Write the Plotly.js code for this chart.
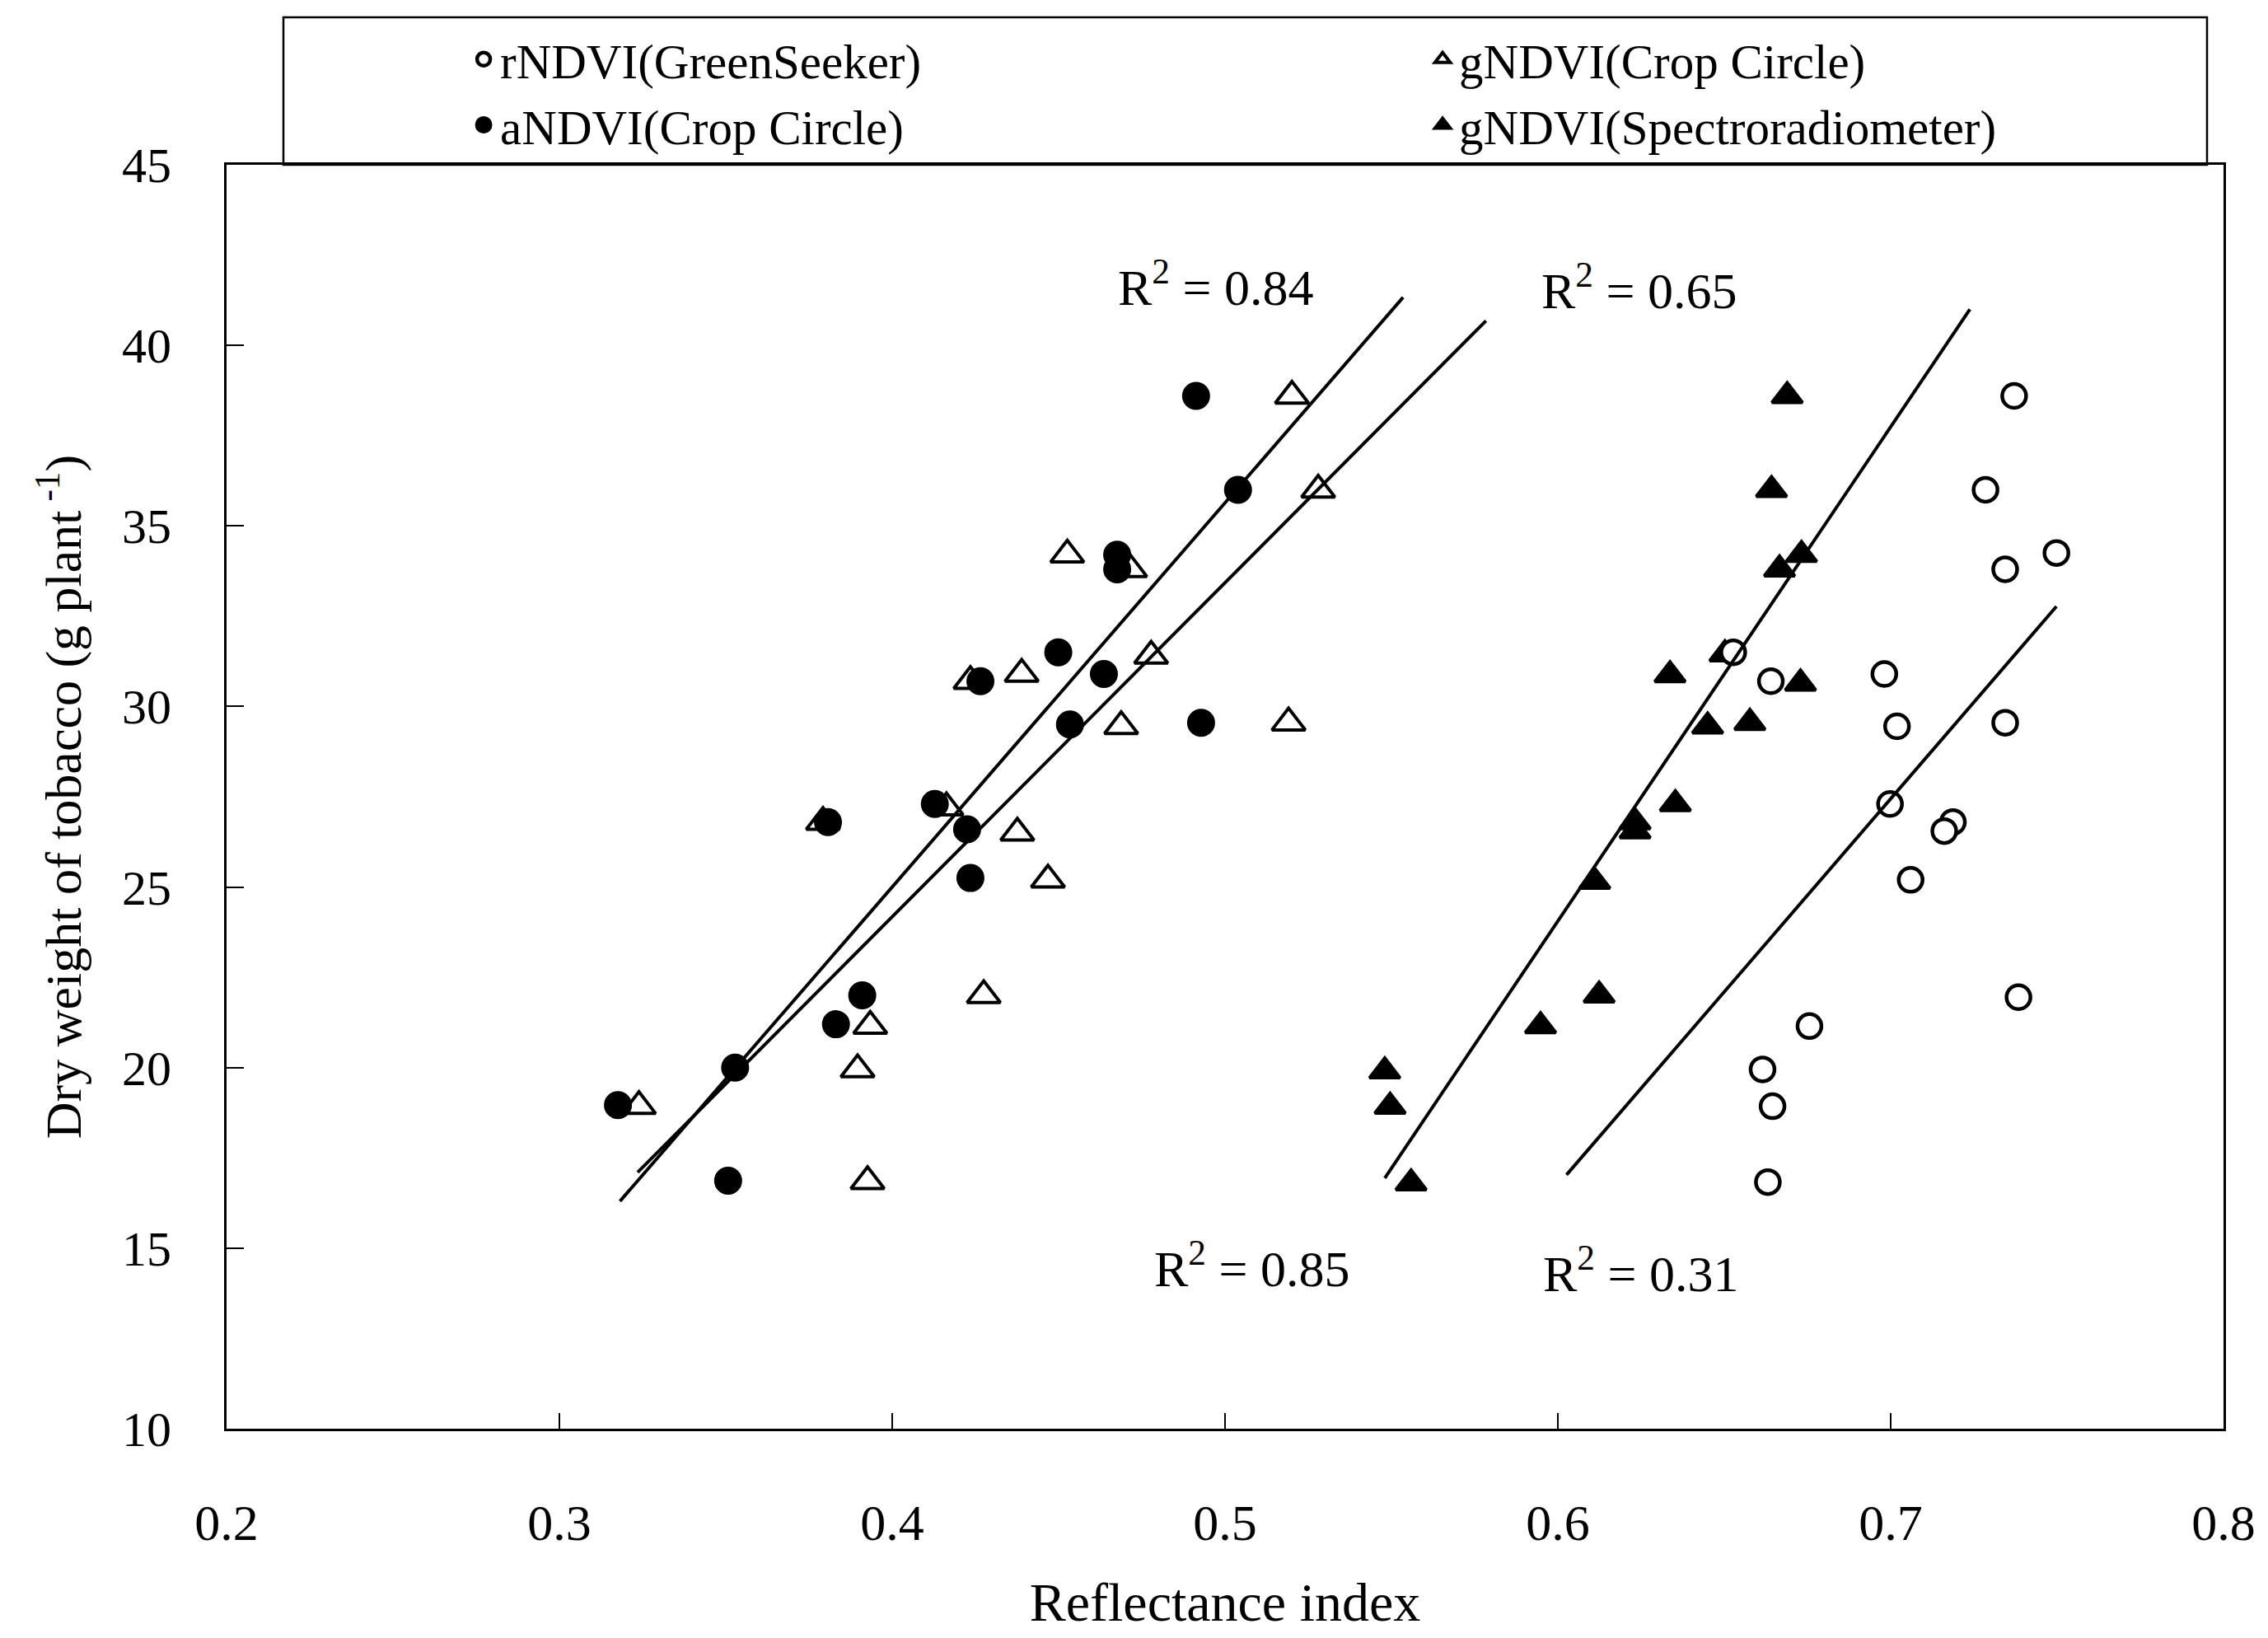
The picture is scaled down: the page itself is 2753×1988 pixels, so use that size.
<!DOCTYPE html>
<html>
<head>
<meta charset="utf-8">
<script src="https://cdn.plot.ly/plotly-3.0.1.min.js"></script>
<style>
  html, body { margin: 0; padding: 0; background: #ffffff; }
  #chart { width: 2753px; height: 1988px; }
</style>
</head>
<body>
<div id="chart"></div>
<script>
// ---- data ----
const rNDVI_x = [0.7371, 0.7285, 0.7498, 0.7344, 0.6527, 0.6640, 0.6981, 0.7019, 0.7344, 0.6998, 0.7187, 0.7161, 0.7060, 0.7384, 0.6756, 0.6615, 0.6645, 0.6631];
const rNDVI_y = [38.6, 36.0, 34.25, 33.8, 31.5, 30.7, 30.9, 29.45, 29.55, 27.3, 26.8, 26.55, 25.2, 21.95, 21.15, 19.95, 18.93, 16.83];

const aNDVI_x = [0.3176, 0.3528, 0.3507, 0.3831, 0.3910, 0.3807, 0.4128, 0.4225, 0.4235, 0.4265, 0.4499, 0.4534, 0.4636, 0.4676, 0.4676, 0.4913, 0.5039, 0.4928];
const aNDVI_y = [18.96, 20.0, 16.87, 21.2, 22.0, 26.8, 27.3, 26.6, 25.25, 30.7, 31.5, 29.5, 30.9, 34.2, 33.8, 38.6, 36.0, 29.55];

const gNDVI_CC_x = [0.3239, 0.3896, 0.3926, 0.3934, 0.4275, 0.3792, 0.4163, 0.4376, 0.4468, 0.4235, 0.4389, 0.4778, 0.4526, 0.4715, 0.5201, 0.5280, 0.4688, 0.5191];
const gNDVI_CC_y = [18.93, 19.95, 16.85, 21.15, 22.0, 26.8, 27.2, 26.5, 25.2, 30.7, 30.9, 31.4, 34.2, 33.8, 38.6, 36.0, 29.45, 29.55];

const gNDVI_SR_x = [0.6689, 0.6642, 0.6732, 0.6666, 0.6502, 0.6337, 0.6729, 0.6450, 0.6577, 0.6353, 0.6232, 0.6232, 0.6111, 0.6124, 0.5948, 0.5480, 0.5496, 0.5559];
const gNDVI_SR_y = [38.6, 36.0, 34.2, 33.8, 31.45, 30.87, 30.64, 29.45, 29.55, 27.3, 26.8, 26.55, 25.15, 22.0, 21.15, 19.9, 18.92, 16.8];

// fitted lines (end points)
const fit_aNDVI_x = [0.3182, 0.5535];
const fit_aNDVI_y = [16.3, 41.33];
const fit_gCC_x = [0.3235, 0.5784];
const fit_gCC_y = [17.1, 40.68];
const fit_gSR_x = [0.5480, 0.7238];
const fit_gSR_y = [16.94, 41.0];
const fit_rNDVI_x = [0.6026, 0.7498];
const fit_rNDVI_y = [17.03, 32.77];

const seriesNames = ['rNDVI(GreenSeeker)', 'gNDVI(Crop Circle)', 'aNDVI(Crop Circle)', 'gNDVI(Spectroradiometer)'];
const r2Labels = ['R<sup>2</sup> = 0.84', 'R<sup>2</sup> = 0.65', 'R<sup>2</sup> = 0.85', 'R<sup>2</sup> = 0.31'];
const xTicks = [0.2, 0.3, 0.4, 0.5, 0.6, 0.7, 0.8];
const yTicks = [10, 15, 20, 25, 30, 35, 40, 45];
const xTitle = 'Reflectance index';
const yTitle = 'Dry weight of tobacco (g plant<sup> -1</sup>)';

// ---- styling ----
const FONT = 'Liberation Serif, Times New Roman, serif';
const BLACK = '#000000';

const traces = [
  { // open triangles
    x: gNDVI_CC_x, y: gNDVI_CC_y, name: seriesNames[1], type: 'scatter', mode: 'markers',
    legend: 'legend2', legendrank: 1,
    marker: { symbol: 'triangle-up', size: 35, color: '#ffffff', line: { color: BLACK, width: 4 } }
  },
  { // filled circles
    x: aNDVI_x, y: aNDVI_y, name: seriesNames[2], type: 'scatter', mode: 'markers',
    legend: 'legend', legendrank: 2,
    marker: { symbol: 'circle', size: 29, color: BLACK, line: { color: BLACK, width: 5 } }
  },
  { // filled triangles
    x: gNDVI_SR_x, y: gNDVI_SR_y, name: seriesNames[3], type: 'scatter', mode: 'markers',
    legend: 'legend2', legendrank: 2,
    marker: { symbol: 'triangle-up', size: 32, color: BLACK, line: { color: BLACK, width: 4 } }
  },
  { // open circles
    x: rNDVI_x, y: rNDVI_y, name: seriesNames[0], type: 'scatter', mode: 'markers',
    legend: 'legend', legendrank: 1,
    marker: { symbol: 'circle', size: 29, color: '#ffffff', line: { color: BLACK, width: 4.5 } }
  },
  { x: fit_aNDVI_x, y: fit_aNDVI_y, type: 'scatter', mode: 'lines', showlegend: false, hoverinfo: 'skip',
    line: { color: BLACK, width: 4 } },
  { x: fit_gCC_x, y: fit_gCC_y, type: 'scatter', mode: 'lines', showlegend: false, hoverinfo: 'skip',
    line: { color: BLACK, width: 4 } },
  { x: fit_gSR_x, y: fit_gSR_y, type: 'scatter', mode: 'lines', showlegend: false, hoverinfo: 'skip',
    line: { color: BLACK, width: 4 } },
  { x: fit_rNDVI_x, y: fit_rNDVI_y, type: 'scatter', mode: 'lines', showlegend: false, hoverinfo: 'skip',
    line: { color: BLACK, width: 4 } }
];

const legendStyle = (xpos) => ({
  orientation: 'v',
  x: xpos, xanchor: 'left', xref: 'paper',
  y: 1.1128, yanchor: 'top', yref: 'paper',
  bgcolor: 'rgba(0,0,0,0)',
  borderwidth: 0,
  tracegroupgap: 0,
  font: { family: FONT, size: 59, color: BLACK },
  itemsizing: 'trace'
});

const annFont = { family: FONT, size: 62, color: BLACK };
const layout = {
  width: 2753,
  height: 1988,
  paper_bgcolor: '#ffffff',
  plot_bgcolor: '#ffffff',
  font: { family: FONT, color: BLACK, size: 60 },
  margin: { l: 275, r: 54, t: 200, b: 254, pad: 0 },
  showlegend: true,
  legend: legendStyle(0.1205),
  legend2: legendStyle(0.6007),
  xaxis: {
    range: [0.2, 0.8],
    tickvals: xTicks,
    ticktext: xTicks.map(v => v.toFixed(1)),
    ticks: 'inside', ticklen: 19, tickwidth: 2, tickcolor: BLACK,
    showline: true, linecolor: BLACK, linewidth: 3, mirror: true,
    showgrid: false, zeroline: false,
    tickfont: { family: FONT, size: 62, color: BLACK },
    ticklabelstandoff: 58,
    automargin: false,
    title: { text: xTitle, font: { family: FONT, size: 66, color: BLACK }, standoff: 40 }
  },
  yaxis: {
    range: [10, 45],
    tickvals: yTicks,
    ticktext: yTicks.map(v => String(v)),
    ticks: 'inside', ticklen: 21, tickwidth: 2, tickcolor: BLACK,
    showline: true, linecolor: BLACK, linewidth: 3, mirror: true,
    showgrid: false, zeroline: false,
    tickfont: { family: FONT, size: 60, color: BLACK },
    ticklabelstandoff: 52,
    automargin: false,
    title: { text: yTitle, font: { family: FONT, size: 62, color: BLACK }, standoff: 30 }
  },
  shapes: [
    { type: 'rect', xref: 'paper', yref: 'paper', x0: 0.02847, x1: 0.99175, y0: 1.0, y1: 1.1167,
      line: { color: BLACK, width: 2.5 }, fillcolor: 'rgba(0,0,0,0)', layer: 'above' }
  ],
  annotations: [
    { x: 0.4973, y: 41.71, xref: 'x', yref: 'y', text: r2Labels[0], showarrow: false, font: annFont, xanchor: 'center', yanchor: 'middle' },
    { x: 0.6245, y: 41.62, xref: 'x', yref: 'y', text: r2Labels[1], showarrow: false, font: annFont, xanchor: 'center', yanchor: 'middle' },
    { x: 0.5082, y: 14.54, xref: 'x', yref: 'y', text: r2Labels[2], showarrow: false, font: annFont, xanchor: 'center', yanchor: 'middle' },
    { x: 0.6250, y: 14.40, xref: 'x', yref: 'y', text: r2Labels[3], showarrow: false, font: annFont, xanchor: 'center', yanchor: 'middle' }
  ]
};

Plotly.newPlot('chart', traces, layout, { displayModeBar: false, staticPlot: true });
</script>
</body>
</html>
